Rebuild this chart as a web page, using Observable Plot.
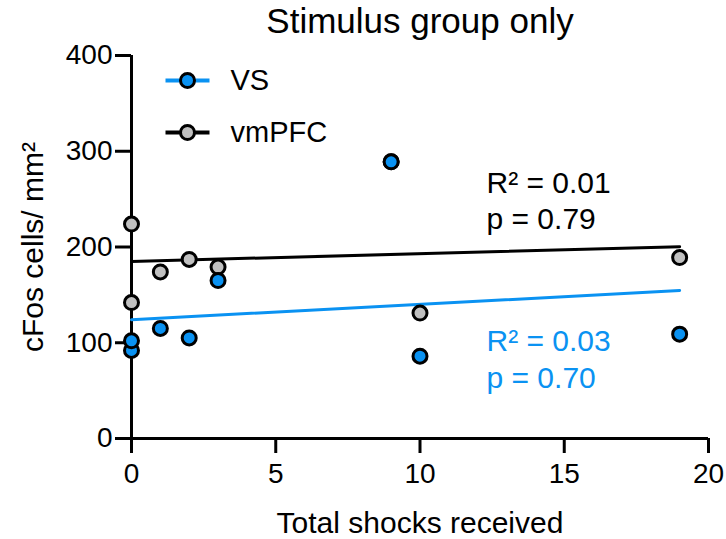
<!DOCTYPE html>
<html>
<head>
<meta charset="utf-8">
<script src="https://cdn.jsdelivr.net/npm/d3@7"></script>
<script src="https://cdn.jsdelivr.net/npm/@observablehq/plot@0.6"></script>
<style>
  html, body { margin: 0; padding: 0; background: #fff; }
  #chart svg { display: block; }
</style>
</head>
<body>
<div id="chart"></div>
<script>
const vsShocks  = [0, 0, 1, 2, 3, 9, 10, 19];
const vsValues  = [92, 102, 115, 105, 165, 289, 86, 109];
const pfcShocks = [0, 0, 1, 2, 3, 9, 10, 19];
const pfcValues = [224, 142, 174, 187, 179, 289, 131, 189];
const xTicks = [0, 5, 10, 15, 20];
const yTicks = [0, 100, 200, 300, 400];
const seriesNames = ["VS", "vmPFC"];
const statsVS  = ["R² = 0.03", "p = 0.70"];
const statsPFC = ["R² = 0.01", "p = 0.79"];

const BLUE = "#0a92f2";
const GRAY = "#c0c0c0";
const FONT = "'Liberation Sans', Arial, Helvetica, sans-serif";

const vs  = vsShocks.map((x, i) => ({x, y: vsValues[i]}));
const pfc = pfcShocks.map((x, i) => ({x, y: pfcValues[i]}));

const legendSwatch = (color, fill, dy) => [
  Plot.dot([0], {frameAnchor: "top-left", dx: 56, dy,
    symbol: {draw(ctx) { ctx.moveTo(-22, 0); ctx.lineTo(22, 0); }},
    stroke: color, strokeWidth: 4, fill: "none"}),
  Plot.dot([0], {frameAnchor: "top-left", dx: 56, dy, r: 7, fill, stroke: "black", strokeWidth: 3})
];

const chart = Plot.plot({
  width: 726,
  height: 539,
  marginLeft: 131,
  marginRight: 18,
  marginTop: 55,
  marginBottom: 101,
  style: {fontFamily: FONT, color: "black", background: "white", overflow: "visible"},
  x: {domain: [0, 20]},
  y: {domain: [0, 400]},
  marks: [
    Plot.axisY({ticks: yTicks, tickSize: 16, tickPadding: 3, fontSize: 28, strokeWidth: 3, label: null}),
    Plot.axisX({ticks: xTicks, tickSize: 15, tickPadding: 10, fontSize: 28, strokeWidth: 3, label: null}),
    Plot.ruleX([0], {stroke: "black", strokeWidth: 3}),
    Plot.ruleY([0], {stroke: "black", strokeWidth: 3}),
    Plot.linearRegressionY(pfc, {x: "x", y: "y", stroke: "black", strokeWidth: 3, ci: 0}),
    Plot.linearRegressionY(vs, {x: "x", y: "y", stroke: BLUE, strokeWidth: 3, ci: 0}),
    Plot.dot(pfc, {x: "x", y: "y", r: 7, fill: GRAY, stroke: "black", strokeWidth: 3}),
    Plot.dot(vs, {x: "x", y: "y", r: 7, fill: BLUE, stroke: "black", strokeWidth: 3}),
    // stats annotations
    Plot.text([statsPFC[0]], {frameAnchor: "top-left", dx: 355, dy: 137, text: d => d, textAnchor: "start", lineAnchor: "bottom", fontSize: 30, fill: "black"}),
    Plot.text([statsPFC[1]], {frameAnchor: "top-left", dx: 355, dy: 173, text: d => d, textAnchor: "start", lineAnchor: "bottom", fontSize: 30, fill: "black"}),
    Plot.text([statsVS[0]], {frameAnchor: "top-left", dx: 355, dy: 295, text: d => d, textAnchor: "start", lineAnchor: "bottom", fontSize: 30, fill: BLUE}),
    Plot.text([statsVS[1]], {frameAnchor: "top-left", dx: 355, dy: 332, text: d => d, textAnchor: "start", lineAnchor: "bottom", fontSize: 30, fill: BLUE}),
    // legend
    ...legendSwatch(BLUE, BLUE, 25),
    ...legendSwatch("black", GRAY, 77),
    Plot.text([seriesNames[0]], {frameAnchor: "top-left", dx: 99, dy: 25, text: d => d, textAnchor: "start", lineAnchor: "middle", fontSize: 29, fill: "black"}),
    Plot.text([seriesNames[1]], {frameAnchor: "top-left", dx: 99, dy: 77, text: d => d, textAnchor: "start", lineAnchor: "middle", fontSize: 29, fill: "black"}),
    // title and axis labels
    Plot.text(["Stimulus group only"], {frameAnchor: "top", dy: -23, text: d => d, textAnchor: "middle", lineAnchor: "bottom", fontSize: 35, fill: "black"}),
    Plot.text(["Total shocks received"], {frameAnchor: "bottom", dy: 94, text: d => d, textAnchor: "middle", lineAnchor: "bottom", fontSize: 30, fill: "black"}),
    Plot.text(["cFos cells/ mm²"], {frameAnchor: "left", dx: -89, rotate: -90, text: d => d, textAnchor: "middle", lineAnchor: "bottom", fontSize: 30, fill: "black"})
  ]
});
document.getElementById("chart").append(chart);
</script>
</body>
</html>
